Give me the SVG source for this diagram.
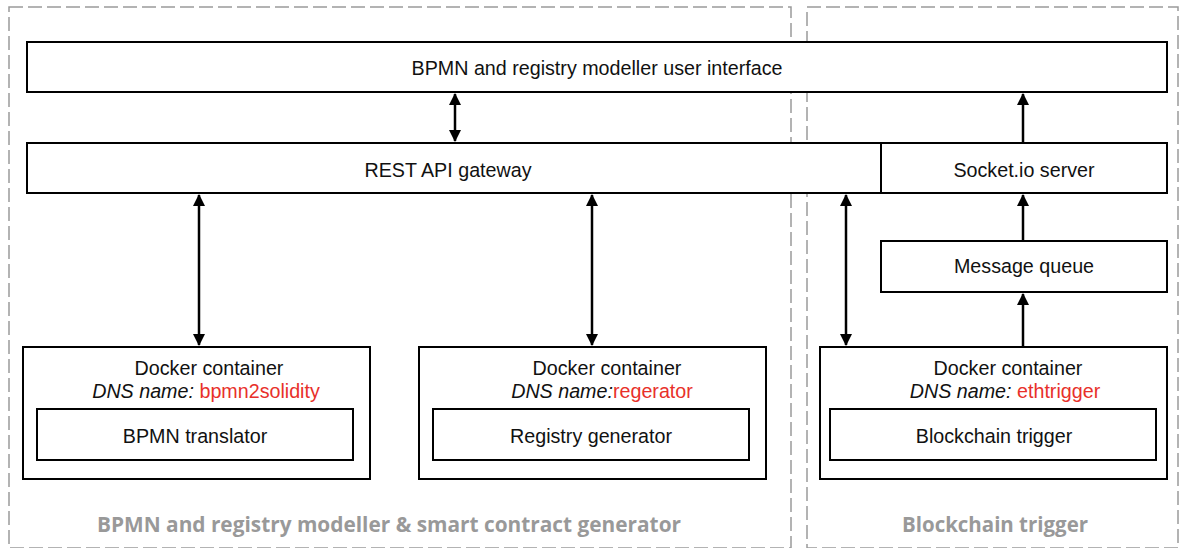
<svg xmlns="http://www.w3.org/2000/svg" width="1179" height="548" viewBox="0 0 1179 548">
<style>
.box{fill:#fff;stroke:#000;stroke-width:2}
.zone{fill:none;stroke:#9a9a9a;stroke-width:1.5;stroke-dasharray:14 5}
.t{font-family:"Liberation Sans",Arial,sans-serif;font-size:19.7px;fill:#111;text-anchor:middle}
.i{font-style:italic}
.red{fill:#e8302a}
.zl{font-family:"Open Sans","Liberation Sans",sans-serif;font-weight:bold;font-size:22px;fill:#999;text-anchor:middle}
.c{stroke:#000;stroke-width:2.5;fill:none}
</style>
<defs>
<marker id="ah" markerWidth="12" markerHeight="12" refX="11" refY="6" orient="auto-start-reverse" markerUnits="userSpaceOnUse">
<path d="M0,0 L12,6 L0,12 z" fill="#000"/>
</marker>
</defs>
<g id="zones">
<rect class="zone" x="9" y="7" width="782" height="541"/>
<rect class="zone" x="807" y="7" width="371" height="541"/>
<text class="zl" x="389" y="532" textLength="584" lengthAdjust="spacingAndGlyphs">BPMN and registry modeller &amp; smart contract generator</text>
<text class="zl" x="995" y="532" textLength="186" lengthAdjust="spacingAndGlyphs">Blockchain trigger</text>
</g>
<g id="ui">
<rect class="box" x="27" y="42" width="1140" height="50"/>
<text class="t" x="597" y="75">BPMN and registry modeller user interface</text>
</g>
<g id="gateway">
<rect class="box" x="27" y="143" width="854" height="50"/>
<text class="t" x="448" y="177">REST API gateway</text>
</g>
<g id="socket">
<rect class="box" x="881" y="143" width="286" height="50"/>
<text class="t" x="1024" y="177">Socket.io server</text>
</g>
<g id="mq">
<rect class="box" x="881" y="241" width="286" height="51"/>
<text class="t" x="1024" y="273">Message queue</text>
</g>
<g id="docker1">
<rect class="box" x="23" y="347" width="347" height="132"/>
<text class="t" x="209" y="375">Docker container</text>
<text class="t" x="206" y="398"><tspan class="i">DNS name:</tspan> <tspan class="red">bpmn2solidity</tspan></text>
<rect class="box" x="37" y="409" width="316" height="51"/>
<text class="t" x="195" y="443">BPMN translator</text>
</g>
<g id="docker2">
<rect class="box" x="419" y="347" width="347" height="132"/>
<text class="t" x="607" y="375">Docker container</text>
<text class="t" x="602" y="398"><tspan class="i">DNS name:</tspan><tspan class="red">regerator</tspan></text>
<rect class="box" x="433" y="409" width="316" height="51"/>
<text class="t" x="591" y="443">Registry generator</text>
</g>
<g id="docker3">
<rect class="box" x="820" y="347" width="347" height="132"/>
<text class="t" x="1008" y="375">Docker container</text>
<text class="t" x="1005" y="398"><tspan class="i">DNS name:</tspan> <tspan class="red">ethtrigger</tspan></text>
<rect class="box" x="830" y="409" width="326" height="51"/>
<text class="t" x="994" y="443">Blockchain trigger</text>
</g>
<g id="connectors">
<line class="c" x1="455" y1="94" x2="455" y2="141" marker-start="url(#ah)" marker-end="url(#ah)"/>
<line class="c" x1="199" y1="195" x2="199" y2="345" marker-start="url(#ah)" marker-end="url(#ah)"/>
<line class="c" x1="592" y1="195" x2="592" y2="345" marker-start="url(#ah)" marker-end="url(#ah)"/>
<line class="c" x1="846" y1="195" x2="846" y2="345" marker-start="url(#ah)" marker-end="url(#ah)"/>
<line class="c" x1="1023" y1="142" x2="1023" y2="94" marker-end="url(#ah)"/>
<line class="c" x1="1023" y1="240" x2="1023" y2="195" marker-end="url(#ah)"/>
<line class="c" x1="1023" y1="346" x2="1023" y2="294" marker-end="url(#ah)"/>
</g>
</svg>
